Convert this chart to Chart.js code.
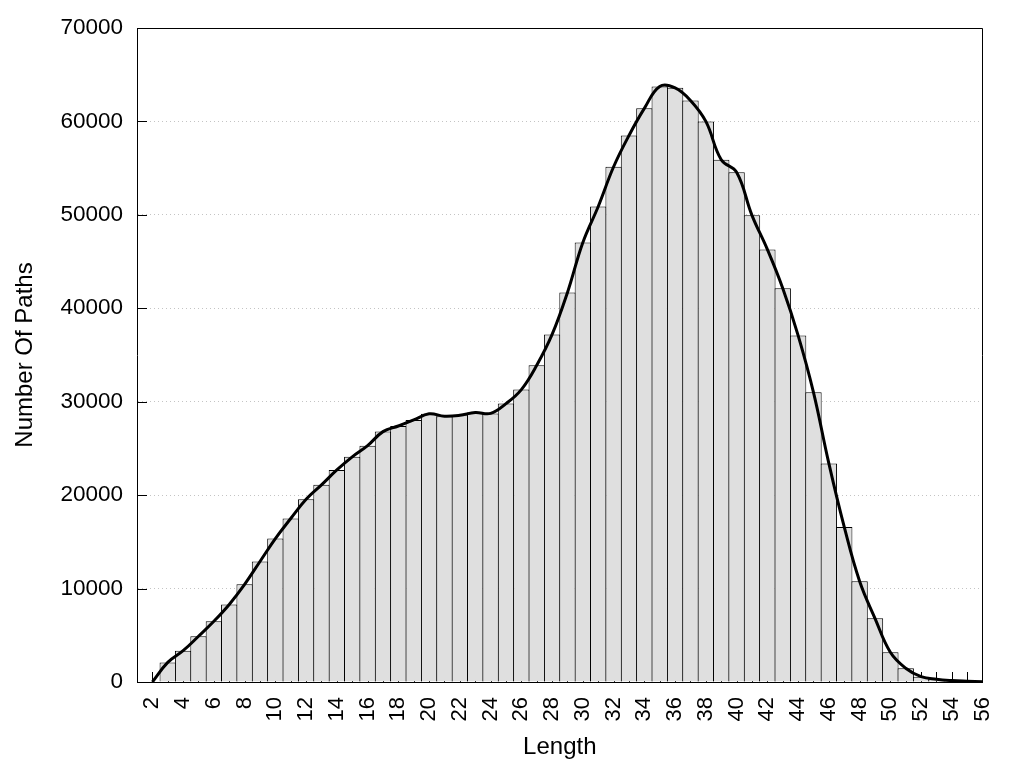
<!DOCTYPE html>
<html>
<head>
<meta charset="utf-8">
<script src="https://cdn.jsdelivr.net/npm/chart.js@4/dist/chart.umd.min.js"></script>
<style>
  html, body { margin: 0; padding: 0; background: #fff; }
  #wrap { width: 1024px; height: 768px; position: relative; }
</style>
</head>
<body>
<div id="wrap"><canvas id="chart"></canvas></div>
<script>
const lengths = [
  1, 2, 3, 4, 5, 6, 7, 8, 9, 10, 11, 12, 13, 14, 15, 16, 17, 18, 19, 20,
  21, 22, 23, 24, 25, 26, 27, 28, 29, 30, 31, 32, 33, 34, 35, 36, 37, 38, 39, 40,
  41, 42, 43, 44, 45, 46, 47, 48, 49, 50, 51, 52, 53, 54, 55, 56,
];

// one count per length; nothing at 1, the curve starts at 0 on length 2
const pathCounts = [
  null, 0, 2100, 3350, 4900, 6500, 8300, 10450, 12900, 15350,
  17500, 19550, 21100, 22700, 24100, 25300, 26800, 27400, 28050, 28700,
  28450, 28550, 28850, 28750, 29800, 31300, 33900, 37200, 41700, 47050,
  50900, 55150, 58500, 61400, 63750, 63600, 62250, 60000, 55900, 54550,
  49950, 46300, 42150, 37100, 31000, 23400, 16600, 10780, 6820, 3180,
  1470, 570, 290, 150, 80, 30,
];

const yTicks = [0, 10000, 20000, 30000, 40000, 50000, 60000, 70000];

const font = "'Liberation Sans', Arial, sans-serif";

// gnuplot style: ticks point inward, box round the plot
const frame = {
  id: "frame",
  beforeDatasetsDraw(chart) {
    const { ctx, chartArea: a, scales } = chart;
    ctx.save();
    ctx.strokeStyle = "#000";
    ctx.lineWidth = 1;
    ctx.beginPath();
    for (let i = 1; i < lengths.length - 1; i++) {
      const x = Math.round(scales.x.getPixelForValue(i)) + 0.5;
      ctx.moveTo(x, a.bottom);
      ctx.lineTo(x, a.bottom - 10);
    }
    for (const v of yTicks.slice(1, -1)) {
      const y = Math.round(scales.y.getPixelForValue(v)) + 0.5;
      ctx.moveTo(a.left, y);
      ctx.lineTo(a.left + 10, y);
    }
    ctx.stroke();
    ctx.restore();
  },
  afterDraw(chart) {
    const { ctx, chartArea: a } = chart;
    ctx.save();
    ctx.strokeStyle = "#000";
    ctx.lineWidth = 1;
    ctx.beginPath();
    const l = Math.round(a.left) + 0.5;
    const r = Math.round(a.right) - 0.5;
    const t = Math.round(a.top) + 0.5;
    ctx.moveTo(l, t);
    ctx.lineTo(r, t);
    ctx.lineTo(r, Math.round(a.bottom));
    ctx.stroke();
    ctx.restore();
  },
};

new Chart(document.getElementById("chart"), {
  type: "bar",
  data: {
    labels: lengths,
    datasets: [
      {
        type: "line",
        data: pathCounts,
        borderColor: "#000",
        borderWidth: 3,
        tension: 0.4,
        pointRadius: 0,
        fill: false,
        order: 0,
      },
      {
        data: pathCounts,
        backgroundColor: "#dfdfdf",
        borderColor: "#000",
        borderWidth: 1,
        borderSkipped: "bottom",
        categoryPercentage: 1,
        barPercentage: 1.065,
        order: 1,
      },
    ],
  },
  options: {
    responsive: true,
    maintainAspectRatio: false,
    animation: false,
    layout: { padding: { top: 28, right: 39, left: 0, bottom: 0 } },
    plugins: {
      legend: { display: false },
      tooltip: { enabled: false },
    },
    scales: {
      x: {
        offset: false,
        grid: { drawOnChartArea: false, drawTicks: false },
        border: { display: true, color: "#000", width: 1 },
        ticks: {
          autoSkip: false,
          minRotation: 90,
          maxRotation: 90,
          padding: 15,
          color: "#000",
          font: { family: font, size: 22 },
          callback: (v, i) => (lengths[i] % 2 === 0 ? String(lengths[i]) : ""),
        },
        title: {
          display: true,
          text: "Length",
          color: "#000",
          font: { family: font, size: 24 },
          padding: { top: 0, bottom: 6 },
        },
        afterFit: (s) => { s.height = 86; },
      },
      y: {
        min: 0,
        max: 70000,
        grid: { color: "#c4c4c4", drawTicks: false, lineWidth: 1 },
        border: { display: true, color: "#000", width: 1, dash: [1, 3] },
        afterBuildTicks: (s) => { s.ticks = yTicks.map((v) => ({ value: v })); },
        ticks: {
          padding: 14,
          color: "#000",
          font: { family: font, size: 22.5 },
          callback: (v) => String(v),
        },
        title: {
          display: true,
          text: "Number Of Paths",
          color: "#000",
          font: { family: font, size: 24 },
          padding: { top: 11, bottom: 0 },
        },
        afterFit: (s) => { s.width = 137; },
      },
    },
  },
  plugins: [frame],
});
</script>
</body>
</html>
